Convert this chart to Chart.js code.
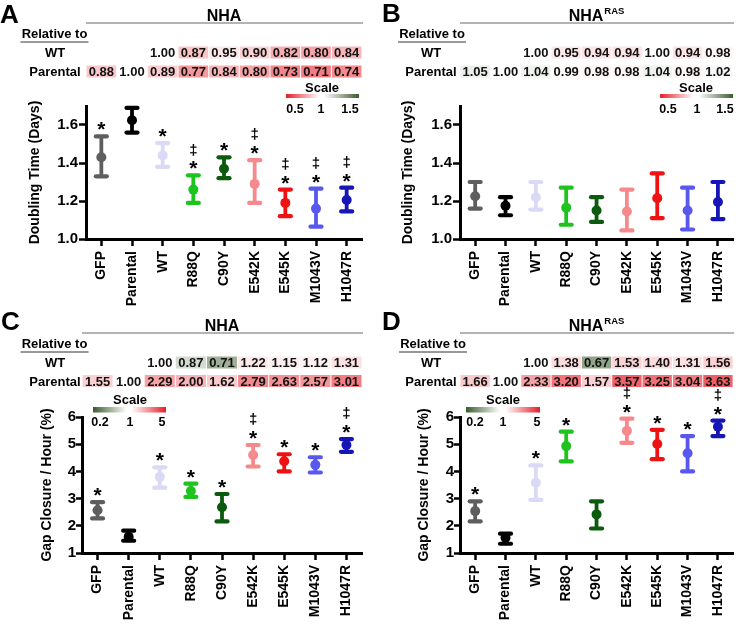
<!DOCTYPE html>
<html><head><meta charset="utf-8">
<script src="https://cdn.jsdelivr.net/npm/chart.js@4"></script>
<style>
html,body{margin:0;padding:0;background:#fff;}
#wrap{position:relative;width:740px;height:626px;overflow:hidden;background:#fff;}
canvas{position:absolute;}
</style></head><body>
<div id="wrap">
<canvas id="cA" width="370" height="310" style="left:0px;top:0px"></canvas>
<canvas id="cB" width="370" height="310" style="left:370px;top:0px"></canvas>
<canvas id="cC" width="370" height="316" style="left:0px;top:310px"></canvas>
<canvas id="cD" width="370" height="316" style="left:370px;top:310px"></canvas>
</div>
<script>
// ---------------- DATA ----------------
const categories = ['GFP','Parental','WT','R88Q','C90Y','E542K','E545K','M1043V','H1047R'];

// Panel A: NHA, doubling time (days)
const A_mean = [1.43, 1.625, 1.44, 1.26, 1.37, 1.29, 1.19, 1.16, 1.205];
const A_low  = [1.33, 1.56, 1.38, 1.19, 1.32, 1.19, 1.12, 1.065, 1.145];
const A_high = [1.54, 1.69, 1.505, 1.335, 1.43, 1.415, 1.26, 1.265, 1.27];
const A_relWT = [null, null, 1.00, 0.87, 0.95, 0.90, 0.82, 0.80, 0.84];
const A_relParental = [0.88, 1.00, 0.89, 0.77, 0.84, 0.80, 0.73, 0.71, 0.74];
const A_marks = ['*', '', '*', '‡*', '*', '‡*', '‡*', '‡*', '‡*'];

// Panel B: NHA-RAS, doubling time (days)
const B_mean = [1.225, 1.175, 1.22, 1.165, 1.15, 1.145, 1.215, 1.15, 1.195];
const B_low  = [1.16, 1.125, 1.155, 1.075, 1.09, 1.045, 1.11, 1.05, 1.105];
const B_high = [1.30, 1.22, 1.30, 1.27, 1.22, 1.26, 1.345, 1.27, 1.30];
const B_relWT = [null, null, 1.00, 0.95, 0.94, 0.94, 1.00, 0.94, 0.98];
const B_relParental = [1.05, 1.00, 1.04, 0.99, 0.98, 0.98, 1.04, 0.98, 1.02];
const B_marks = ['', '', '', '', '', '', '', '', ''];

// Panel C: NHA, gap closure / hour (%)
const C_mean = [2.57, 1.60, 3.80, 3.28, 2.68, 4.60, 4.37, 4.24, 4.97];
const C_low  = [2.27, 1.45, 3.40, 3.06, 2.16, 4.18, 4.00, 3.96, 4.72];
const C_high = [2.87, 1.82, 4.15, 3.55, 3.17, 4.97, 4.63, 4.52, 5.19];
const C_relWT = [null, null, 1.00, 0.87, 0.71, 1.22, 1.15, 1.12, 1.31];
const C_relParental = [1.55, 1.00, 2.29, 2.00, 1.62, 2.79, 2.63, 2.57, 3.01];
const C_marks = ['*', '', '*', '*', '*', '‡*', '*', '*', '‡*'];

// Panel D: NHA-RAS, gap closure / hour (%)
const D_mean = [2.54, 1.56, 3.58, 4.93, 2.42, 5.49, 5.01, 4.67, 5.64];
const D_low  = [2.16, 1.34, 2.95, 4.37, 1.90, 5.05, 4.45, 4.00, 5.30];
const D_high = [2.90, 1.71, 4.22, 5.46, 2.90, 5.94, 5.53, 5.30, 5.87];
const D_relWT = [null, null, 1.00, 1.38, 0.67, 1.53, 1.40, 1.31, 1.56];
const D_relParental = [1.66, 1.00, 2.33, 3.20, 1.57, 3.57, 3.25, 3.04, 3.63];
const D_marks = ['*', '', '*', '*', '', '‡*', '*', '*', '‡*'];

const AB_yTickLabels = ['1.0', '1.2', '1.4', '1.6'];
const CD_yTickLabels = ['1', '2', '3', '4', '5', '6'];
const AB_scaleLabels = ['0.5', '1', '1.5'];
const CD_scaleLabels = ['0.2', '1', '5'];
const rowNames = ['WT', 'Parental'];

// ---------------- STYLE ----------------
const COLORS = ['#5e5e5e','#000000','#dadaf6','#1ec41e','#0b5a0e','#f5898c','#ee1212','#5858ee','#1616b6'];
const FONT = '"Liberation Sans", Arial, Helvetica, sans-serif';
const RED = [230, 30, 40], GREEN = [58, 92, 44];

function mix(t, c) {
  t = Math.max(0, Math.min(1, t));
  return 'rgb(' + c.map(v => Math.round(255 - (255 - v) * t)).join(',') + ')';
}
function colorAB(v) { // 0.5 red, 1 white, 1.5 green
  if (v < 1) return mix((1 - v) / 0.5, RED);
  return mix((v - 1) / 0.5, GREEN);
}
function colorCD(v) { // 0.2 green, 1 white, 5 red
  if (v < 1) return mix((1 - v) / 0.8 * 1.35, GREEN);
  return mix(Math.pow((v - 1) / 4, 0.8), RED);
}

function txt(ctx, s, x, yc, size, align, weight) {
  ctx.font = (weight || 'bold') + ' ' + size + 'px ' + FONT;
  ctx.textAlign = align || 'center';
  ctx.textBaseline = 'alphabetic';
  ctx.fillText(s, x, yc + size * 0.36);
}

const panels = [
  {id:'cA', letter:'A', lx:0, lb:23, title:'NHA', sup:'', mean:A_mean, low:A_low, high:A_high,
   relWT:A_relWT, relPar:A_relParental, marks:A_marks, yMin:1.0, yMax:1.7, yStep:0.1, dec:1,
   yTicks:AB_yTickLabels, yTitle:'Doubling Time (Days)', axisLeft:86, rightPad:8, top:106, xH:71,
   titlePad:26.6, tickLen:7, tickPad:1, rowX:55, relX:54.5, ulColor:'#9a9a9a', ulW:2,
   rows:[52.5, 71.5], cellH:12, scaleX0:286, scaleX1:359, gy0:94, gy1:98, scaleCX:322, scaleY:87,
   scaleLabX:[295, 321, 350], scaleLabY:108, scaleLabels:AB_scaleLabels, grad:'rg', colorFn:colorAB},
  {id:'cB', letter:'B', lx:12, lb:22, title:'NHA', sup:'RAS', mean:B_mean, low:B_low, high:B_high,
   relWT:B_relWT, relPar:B_relParental, marks:B_marks, yMin:1.0, yMax:1.7, yStep:0.1, dec:1,
   yTicks:AB_yTickLabels, yTitle:'Doubling Time (Days)', axisLeft:90, rightPad:2, top:106, xH:71,
   titlePad:29.3, tickLen:7, tickPad:1, rowX:61, relX:62, ulColor:'#9a9a9a', ulW:2,
   rows:[52.5, 71.5], cellH:12, scaleX0:290, scaleX1:363, gy0:94, gy1:98, scaleCX:326, scaleY:87,
   scaleLabX:[298, 327, 355], scaleLabY:108, scaleLabels:AB_scaleLabels, grad:'rg', colorFn:colorAB},
  {id:'cC', letter:'C', lx:1, lb:20, title:'NHA', sup:'', mean:C_mean, low:C_low, high:C_high,
   relWT:C_relWT, relPar:C_relParental, marks:C_marks, yMin:1, yMax:6, yStep:1, dec:0,
   yTicks:CD_yTickLabels, yTitle:'Gap Closure / Hour (%)', axisLeft:82, rightPad:8, top:107, xH:73,
   titlePad:39, tickLen:6, tickPad:0, rowX:55, relX:54.5, ulColor:'#333', ulW:1.2,
   rows:[52.5, 71], cellH:12, scaleX0:93, scaleX1:166, gy0:97, gy1:102.5, scaleCX:130, scaleY:89,
   scaleLabX:[100, 130, 162], scaleLabY:111, scaleLabels:CD_scaleLabels, grad:'gr', colorFn:colorCD},
  {id:'cD', letter:'D', lx:12, lb:20, title:'NHA', sup:'RAS', mean:D_mean, low:D_low, high:D_high,
   relWT:D_relWT, relPar:D_relParental, marks:D_marks, yMin:1, yMax:6, yStep:1, dec:0,
   yTicks:CD_yTickLabels, yTitle:'Gap Closure / Hour (%)', axisLeft:90, rightPad:2, top:107, xH:73,
   titlePad:46, tickLen:6, tickPad:0, rowX:61, relX:63, ulColor:'#333', ulW:1.2,
   rows:[52.5, 71], cellH:12, scaleX0:96, scaleX1:170, gy0:97, gy1:102.5, scaleCX:133, scaleY:89,
   scaleLabX:[105, 133, 167], scaleLabY:111, scaleLabels:CD_scaleLabels, grad:'gr', colorFn:colorCD}
];

function makeChart(p) {
  const errorBars = {
    id: 'errorBars',
    beforeDatasetsDraw(chart) {
      const ctx = chart.ctx, xs = chart.scales.x, ys = chart.scales.y;
      ctx.save();
      p.mean.forEach((m, i) => {
        const x = xs.getPixelForValue(i);
        const yl = ys.getPixelForValue(p.low[i]);
        const yh = ys.getPixelForValue(p.high[i]);
        ctx.strokeStyle = COLORS[i];
        ctx.lineCap = 'butt';
        ctx.lineWidth = 3.8;
        ctx.beginPath(); ctx.moveTo(x, yl); ctx.lineTo(x, yh); ctx.stroke();
        ctx.lineCap = 'round';
        ctx.lineWidth = 4.2;
        [yl, yh].forEach(y => { ctx.beginPath(); ctx.moveTo(x - 5.5, y); ctx.lineTo(x + 5.5, y); ctx.stroke(); });
      });
      ctx.restore();
    }
  };
  const header = {
    id: 'header',
    afterDraw(chart) {
      const ctx = chart.ctx, xs = chart.scales.x, ys = chart.scales.y, ca = chart.chartArea;
      ctx.save();
      ctx.fillStyle = '#000';
      // panel letter
      txt(ctx, p.letter, p.lx, p.lb - 26 * 0.36, 26, 'left');
      // title
      const cx = (ca.left + ca.right) / 2;
      ctx.font = 'bold 16px ' + FONT;
      const w1 = ctx.measureText(p.title).width;
      ctx.font = 'bold 9.5px ' + FONT;
      const w2 = p.sup ? ctx.measureText(p.sup).width + 1 : 0;
      const sx = cx - (w1 + w2) / 2;
      txt(ctx, p.title, sx, 15, 16, 'left');
      if (p.sup) { ctx.font = 'bold 9.5px ' + FONT; ctx.textAlign = 'left'; ctx.fillText(p.sup, sx + w1 + 1, 14); }
      ctx.strokeStyle = '#6a6a6a'; ctx.lineWidth = 1.2;
      ctx.beginPath(); ctx.moveTo(ca.left, 23); ctx.lineTo(ca.right + 1, 23); ctx.stroke();
      // relative to
      ctx.fillStyle = '#000';
      txt(ctx, 'Relative to', p.relX, 33, 13, 'center');
      ctx.strokeStyle = p.ulColor; ctx.lineWidth = p.ulW;
      ctx.beginPath(); ctx.moveTo(p.relX - 34, 42); ctx.lineTo(p.relX + 34, 42); ctx.stroke();
      // heatmap rows
      const band = xs.getPixelForValue(1) - xs.getPixelForValue(0);
      [p.relWT, p.relPar].forEach((row, r) => {
        const yc = p.rows[r];
        ctx.fillStyle = '#000';
        txt(ctx, rowNames[r], p.rowX, yc, 13, 'center');
        row.forEach((v, i) => {
          if (v === null) return;
          const x = xs.getPixelForValue(i);
          ctx.fillStyle = p.colorFn(v);
          ctx.fillRect(x - band / 2 + 0.5, yc - p.cellH / 2, band - 1, p.cellH);
          ctx.fillStyle = '#111';
          txt(ctx, v.toFixed(2), x, yc, 13, 'center');
        });
      });
      // scale legend
      ctx.fillStyle = '#000';
      txt(ctx, 'Scale', p.scaleCX, p.scaleY, 13, 'center');
      const g = ctx.createLinearGradient(p.scaleX0, 0, p.scaleX1, 0);
      const c0 = p.grad === 'rg' ? 'rgb(' + RED.join(',') + ')' : 'rgb(' + GREEN.join(',') + ')';
      const c1 = p.grad === 'rg' ? 'rgb(' + GREEN.join(',') + ')' : 'rgb(' + RED.join(',') + ')';
      g.addColorStop(0, c0); g.addColorStop(0.46, '#ffffff'); g.addColorStop(0.53, '#ffffff'); g.addColorStop(1, c1);
      ctx.fillStyle = g;
      ctx.fillRect(p.scaleX0, p.gy0, p.scaleX1 - p.scaleX0, p.gy1 - p.gy0);
      ctx.fillStyle = '#000';
      p.scaleLabels.forEach((s, k) => txt(ctx, s, p.scaleLabX[k], p.scaleLabY, 12.5, 'center'));
      // significance marks
      p.marks.forEach((m, i) => {
        if (!m) return;
        const x = xs.getPixelForValue(i);
        const yh = ys.getPixelForValue(p.high[i]);
        const starC = yh - 12;
        ctx.fillStyle = '#000';
        ctx.font = 'bold 21px ' + FONT; ctx.textAlign = 'center'; ctx.textBaseline = 'alphabetic';
        if (m.includes('*')) ctx.fillText('*', x, starC + 12);
        if (m.includes('‡')) {
          ctx.font = 'bold 15px ' + FONT;
          ctx.fillText('‡', x, starC - 13 + 4.3);
        }
      });
      ctx.restore();
    }
  };
  const tickFont = {family: FONT, size: 15, weight: 'bold'};
  new Chart(document.getElementById(p.id), {
    type: 'line',
    data: {
      labels: categories,
      datasets: [{
        data: p.mean, showLine: false, pointRadius: 5, pointHoverRadius: 5,
        pointBackgroundColor: COLORS, pointBorderColor: COLORS, pointBorderWidth: 0, clip: false
      }]
    },
    options: {
      responsive: false, animation: false, events: [],
      layout: {padding: {left: 0, right: p.rightPad, top: p.top, bottom: 0}},
      plugins: {legend: {display: false}, tooltip: {enabled: false}, title: {display: false}},
      scales: {
        x: {
          type: 'category', offset: true,
          afterFit: s => { s.height = p.xH; },
          grid: {display: true, drawOnChartArea: false, drawTicks: true, tickLength: 7, tickWidth: 2.5, tickColor: '#000', color: '#000'},
          border: {display: true, width: 3, color: '#000'},
          ticks: {autoSkip: false, maxRotation: 90, minRotation: 90, padding: 5, color: '#000', font: {family: FONT, size: 14, weight: 'bold'}}
        },
        y: {
          type: 'linear', min: p.yMin, max: p.yMax,
          afterFit: s => { s.width = p.axisLeft; },
          grid: {display: true, drawOnChartArea: false, drawTicks: true, tickLength: p.tickLen, tickWidth: 2.5, tickColor: '#000', color: '#000'},
          border: {display: true, width: 3, color: '#000'},
          ticks: {
            stepSize: p.yStep, padding: p.tickPad, color: '#000', font: tickFont,
            callback: v => { const s = Number(v).toFixed(p.dec); return p.yTicks.includes(s) ? s : ''; }
          },
          title: {display: true, text: p.yTitle, color: '#000', font: {family: FONT, size: 14, weight: 'bold'}, padding: {top: p.titlePad, bottom: 0}}
        }
      }
    },
    plugins: [errorBars, header]
  });
}
panels.forEach(makeChart);
</script>
</body></html>
